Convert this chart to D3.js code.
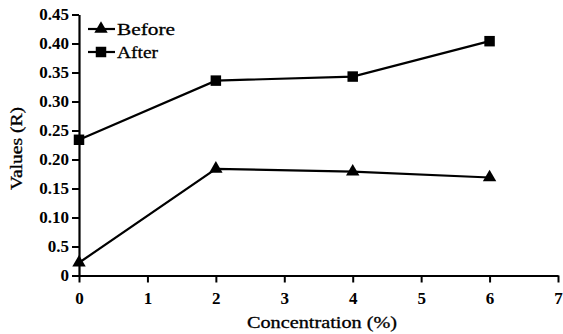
<!DOCTYPE html>
<html><head><meta charset="utf-8">
<script src="https://cdn.jsdelivr.net/npm/d3@7"></script>
<style>body{margin:0;background:#fff}svg{display:block}</style>
</head><body>
<svg id="c" width="563" height="334"></svg>
<script>
const concentration = [0, 2, 4, 6];
const before = [0.022, 0.184, 0.179, 0.169];
const after = [0.234, 0.336, 0.343, 0.404];
const yTicks = [0, 0.05, 0.10, 0.15, 0.20, 0.25, 0.30, 0.35, 0.40, 0.45];
const yTickLabels = ["0", "0.5", "0.10", "0.15", "0.20", "0.25", "0.30", "0.35", "0.40", "0.45"];
const xTicks = [0, 1, 2, 3, 4, 5, 6, 7];
const seriesNames = ["Before", "After"];

const svg = d3.select("#c");
const font = "'Liberation Serif', 'Times New Roman', serif";
const x = d3.scaleLinear().domain([0, 7]).range([79, 558]);
const y = d3.scaleLinear().domain([0, 0.45]).range([275.5, 14.5]);

const xAxis = svg.append("g").attr("transform", `translate(0,${y(0)})`)
  .call(d3.axisBottom(x).tickValues(xTicks).tickFormat(d3.format("d")).tickSize(7).tickSizeOuter(0).tickPadding(9));
const yAxis = svg.append("g").attr("transform", `translate(${x(0)},0)`)
  .call(d3.axisLeft(y).tickValues(yTicks).tickFormat((d, i) => yTickLabels[i]).tickSize(7).tickSizeOuter(0).tickPadding(3));
[xAxis, yAxis].forEach(g => {
  g.attr("font-family", null);
  g.select(".domain").attr("stroke", "#000").attr("stroke-width", 2.2);
  g.selectAll(".tick line").attr("stroke", "#000").attr("stroke-width", 2);
  g.selectAll(".tick text").attr("fill", "#000").style("font-family", font)
    .style("font-size", "17px").style("font-weight", "bold");
});

const line = d3.line().x(d => x(d[0])).y(d => y(d[1]));
const dataB = concentration.map((c, i) => [c, before[i]]);
const dataA = concentration.map((c, i) => [c, after[i]]);
[dataB, dataA].forEach(d => svg.append("path").datum(d).attr("d", line)
  .attr("fill", "none").attr("stroke", "#000").attr("stroke-width", 2.2));

const tri = d3.symbol().type(d3.symbolTriangle).size(78);
const sq = d3.symbol().type(d3.symbolSquare).size(110);
svg.selectAll(".tri").data(dataB).join("path").attr("d", tri)
  .attr("transform", d => `translate(${x(d[0])},${y(d[1])})`).attr("fill", "#000");
svg.selectAll(".sq").data(dataA).join("path").attr("d", sq)
  .attr("transform", d => `translate(${x(d[0])},${y(d[1])})`).attr("fill", "#000");

// legend
const lg = svg.append("g");
const legendWidths = [58, 41];
[[29, tri], [52, sq]].forEach(([ly, sym], i) => {
  lg.append("line").attr("x1", 88).attr("x2", 115).attr("y1", ly).attr("y2", ly)
    .attr("stroke", "#000").attr("stroke-width", 2.2);
  lg.append("path").attr("d", sym).attr("transform", `translate(101,${ly})`).attr("fill", "#000");
  lg.append("text").attr("x", 117).attr("y", ly + 6).text(seriesNames[i])
    .attr("textLength", legendWidths[i]).attr("lengthAdjust", "spacingAndGlyphs")
    .style("font-family", font).style("font-size", "17px").attr("fill", "#000")
    .attr("stroke", "#000").attr("stroke-width", 0.3);
});

svg.append("text").attr("x", 247).attr("y", 328)
  .attr("textLength", 150).attr("lengthAdjust", "spacingAndGlyphs")
  .text("Concentration (%)").style("font-family", font).style("font-size", "16px").attr("fill", "#000")
  .attr("stroke", "#000").attr("stroke-width", 0.3);
svg.append("text").attr("transform", "translate(22,190) rotate(-90)")
  .attr("textLength", 83).attr("lengthAdjust", "spacingAndGlyphs")
  .text("Values (R)").style("font-family", font).style("font-size", "16px").attr("fill", "#000")
  .attr("stroke", "#000").attr("stroke-width", 0.3);
</script>
</body></html>
